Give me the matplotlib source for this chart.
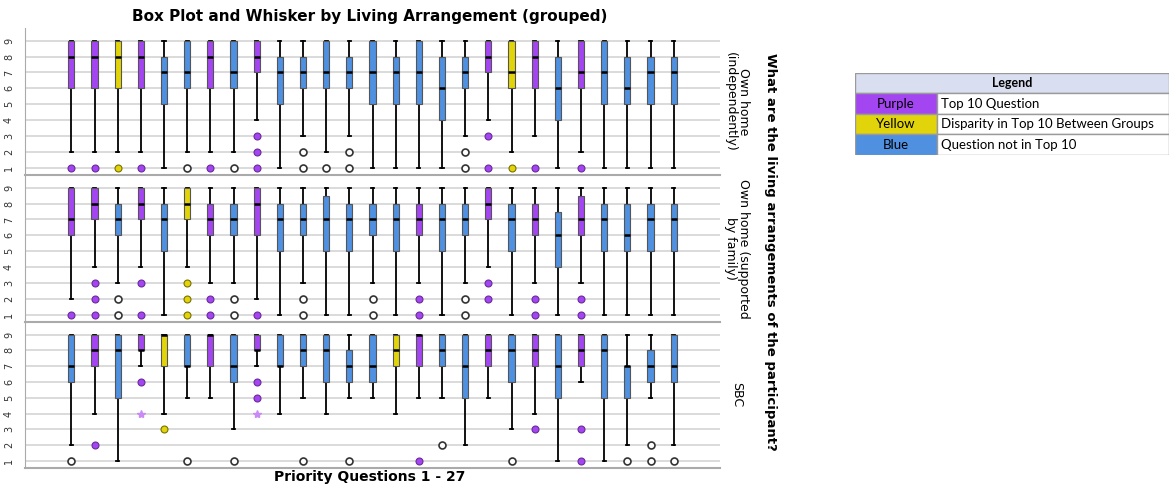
import matplotlib.pyplot as plt
from matplotlib.patches import Rectangle

# Question numbers and living arrangement groups
questions = list(range(1, 28))
groups = ["Own home\n(independently)", "Own home (supported\nby family)", "SBC"]

# P = top 10 question, Y = disparity in top 10, B = not in top 10
cat_indep = ["P", "P", "Y", "P", "B", "B", "P", "B", "P", "B", "B", "B", "B", "B",
             "B", "B", "B", "B", "P", "Y", "P", "B", "P", "B", "B", "B", "B"]
q1_indep = [6, 6, 6, 6, 5, 6, 6, 6, 7, 5, 6, 6, 6, 5, 5, 5, 4, 6, 7, 6, 6, 4, 6, 5, 5, 5, 5]
med_indep = [8, 8, 8, 8, 7, 7, 8, 7, 8, 7, 7, 7, 7, 7, 7, 7, 6, 7, 8, 7, 8, 6, 7, 7, 6, 7, 7]
q3_indep = [9, 9, 9, 9, 8, 9, 9, 9, 9, 8, 8, 9, 8, 9, 8, 9, 8, 8, 9, 9, 9, 8, 9, 9, 8, 8, 8]
lo_indep = [2, 2, 2, 2, 1, 2, 2, 2, 4, 1, 3, 2, 3, 1, 1, 1, 1, 3, 4, 2, 3, 1, 2, 1, 1, 1, 1]
hi_indep = [9] * 27
out_indep = [[1], [1], [1], [1], [], [1], [1], [1], [1, 2, 3], [], [1, 2], [1], [1, 2], [],
             [], [], [], [1, 2], [1, 3], [1], [1], [], [1], [], [], [], []]
ext_indep = [[]] * 27

cat_family = ["P", "P", "B", "P", "B", "Y", "P", "B", "P", "B", "B", "B", "B", "B",
              "B", "P", "B", "B", "P", "B", "P", "B", "P", "B", "B", "B", "B"]
q1_family = [6, 7, 6, 7, 5, 7, 6, 6, 6, 5, 6, 5, 5, 6, 5, 6, 5, 6, 7, 5, 6, 4, 6, 5, 5, 5, 5]
med_family = [7, 8, 7, 8, 7, 8, 7, 7, 8, 7, 7, 7, 7, 7, 7, 7, 7, 7, 8, 7, 7, 6, 7, 7, 6, 7, 7]
q3_family = [9, 9, 8, 9, 8, 9, 8, 8, 9, 8, 8, 8.5, 8, 8, 8, 8, 8, 8, 9, 8, 8, 7.5, 8.5, 8, 8, 8, 8]
lo_family = [2, 4, 3, 4, 1, 4, 3, 3, 2, 1, 3, 1, 1, 3, 1, 3, 1, 3, 4, 1, 3, 1, 3, 1, 1, 1, 1]
hi_family = [9] * 27
out_family = [[1], [1, 2, 3], [1, 2], [1, 3], [], [1, 2, 3], [1, 2], [1, 2], [1], [], [1, 2], [], [],
              [1, 2], [], [1, 2], [], [1, 2], [2, 3], [], [1, 2], [], [1, 2], [], [], [], []]
ext_family = [[]] * 27

cat_sbc = ["B", "P", "B", "P", "Y", "B", "P", "B", "P", "B", "B", "B", "B", "B",
           "Y", "P", "B", "B", "P", "B", "P", "B", "P", "B", "B", "B", "B"]
q1_sbc = [6, 7, 5, 8, 7, 7, 7, 6, 8, 7, 7, 6, 6, 6, 7, 7, 7, 5, 7, 6, 7, 5, 7, 5, 5, 6, 6]
med_sbc = [7, 8, 8, 8, 9, 7, 9, 7, 8, 7, 8, 8, 7, 7, 8, 9, 8, 7, 8, 8, 8, 7, 8, 8, 7, 7, 7]
q3_sbc = [9, 9, 9, 9, 9, 9, 9, 9, 9, 9, 9, 9, 8, 9, 9, 9, 9, 9, 9, 9, 9, 9, 9, 9, 7, 8, 9]
lo_sbc = [2, 4, 1, 7, 4, 5, 5, 3, 7, 4, 5, 4, 5, 5, 4, 5, 5, 2, 5, 3, 4, 1, 6, 1, 2, 5, 2]
hi_sbc = [9] * 27
out_sbc = [[1], [2], [], [6], [3], [1], [], [1], [5, 6], [], [1], [], [1], [], [], [1], [2], [],
           [], [1], [3], [], [1, 3], [], [1], [1, 2], [1]]
ext_sbc = [[], [], [], [4], [], [], [], [], [4], [], [], [], [], [], [], [], [], [], [], [], [],
           [], [], [], [], [], []]

colors = {"P": "#A445F2", "Y": "#E2D40A", "B": "#4F90E0"}
outlier_face = {"P": "#A445F2", "Y": "#E2D40A", "B": "white"}

panels = [
    (cat_indep, q1_indep, med_indep, q3_indep, lo_indep, hi_indep, out_indep, ext_indep),
    (cat_family, q1_family, med_family, q3_family, lo_family, hi_family, out_family, ext_family),
    (cat_sbc, q1_sbc, med_sbc, q3_sbc, lo_sbc, hi_sbc, out_sbc, ext_sbc),
]

fig = plt.figure(figsize=(11.69, 4.86), dpi=100)

W, H = 1169, 486
left, right = 25, 720
bounds = [(28, 175), (175, 322), (322, 468)]

for (top, bot), label, (cats, q1, med, q3, lo, hi, outl, ext) in zip(bounds, groups, panels):
    ax = fig.add_axes([left / W, 1 - bot / H, (right - left) / W, (bot - top) / H])
    stats = []
    for i in range(len(questions)):
        stats.append(dict(q1=q1[i], med=med[i], q3=q3[i], whislo=lo[i], whishi=hi[i], fliers=[]))
    bp = ax.bxp(stats, positions=questions, widths=0.27, patch_artist=True, showfliers=False,
                boxprops=dict(edgecolor='#555555', linewidth=0.8),
                medianprops=dict(color='black', linewidth=1.8, zorder=5),
                whiskerprops=dict(color='black', linewidth=1.3),
                capprops=dict(color='black', linewidth=1.3))
    for patch, c in zip(bp['boxes'], cats):
        patch.set_facecolor(colors[c])
        patch.set_zorder(3)
    for x, c, vals in zip(questions, cats, outl):
        for v in vals:
            ax.plot(x, v, 'o', ms=5, mfc=outlier_face[c],
                    mec='#333333' if c == "B" else '#6a2a9a' if c == "P" else '#7a7000',
                    mew=1.2 if c == "B" else 0.8, zorder=4)
    for x, vals in zip(questions, ext):
        for v in vals:
            ax.plot(x, v, '*', ms=6, color='#C98AF5', mec='#C98AF5', zorder=4)

    ax.set_xlim(-1, 29)
    ax.set_ylim(0.55, 9.8)
    ax.set_yticks(range(1, 10))
    ax.set_yticklabels([str(v) for v in range(1, 10)], rotation=90, fontsize=7, color='#333333',
                       va='center')
    ax.tick_params(axis='y', length=0, pad=8)
    ax.set_xticks([])
    ax.yaxis.grid(True, color='#d4d4d4', linewidth=1.2)
    ax.set_axisbelow(True)
    for s in ['top', 'right']:
        ax.spines[s].set_visible(False)
    ax.spines['left'].set_color('#aaaaaa')
    ax.spines['bottom'].set_color('#aaaaaa')
    ax.spines['bottom'].set_linewidth(1.5)
    ax.patch.set_alpha(0)

    fig.text(737 / W, 1 - ((top + bot) / 2) / H, label, rotation=270, ha='center', va='center',
             fontsize=9, linespacing=0.95)

fig.text(370 / W, 1 - 17 / H, "Box Plot and Whisker by Living Arrangement (grouped)",
         ha='center', va='center', fontsize=11, fontweight='bold')
fig.text(370 / W, 1 - 477 / H, "Priority Questions 1 - 27", ha='center', va='center',
         fontsize=10, fontweight='bold')
fig.text(771 / W, 1 - 252 / H, "What are the living arrangements of the participant?",
         rotation=270, ha='center', va='center', fontsize=9.5, fontweight='bold')

# Legend table
lax = fig.add_axes([855 / W, 1 - 155 / H, 314 / W, 82 / H])
lax.set_xlim(0, 1)
lax.set_ylim(0, 1)
lax.axis('off')
edge = '#9a9a9a'
lax.add_patch(Rectangle((0, 0.75), 1, 0.25, facecolor='#D9DFF1', edgecolor=edge, lw=1))
lax.text(0.5, 0.875, "Legend", ha='center', va='center', fontsize=9, fontweight='bold',
         family='Lato')
rows = [("Purple", "Top 10 Question", "P"),
        ("Yellow", "Disparity in Top 10 Between Groups", "Y"),
        ("Blue", "Question not in Top 10", "B")]
for k, (name, desc, c) in enumerate(rows):
    y0 = 0.5 - 0.25 * k
    lax.add_patch(Rectangle((0, y0), 0.26, 0.25, facecolor=colors[c], edgecolor=edge, lw=1))
    lax.add_patch(Rectangle((0.26, y0), 0.74, 0.25, facecolor='white', edgecolor=edge, lw=1))
    lax.text(0.13, y0 + 0.125, name, ha='center', va='center', fontsize=9.5, family='Lato')
    lax.text(0.275, y0 + 0.125, desc, ha='left', va='center', fontsize=9.5, family='Lato')

fig.savefig('out.png', dpi=100)
